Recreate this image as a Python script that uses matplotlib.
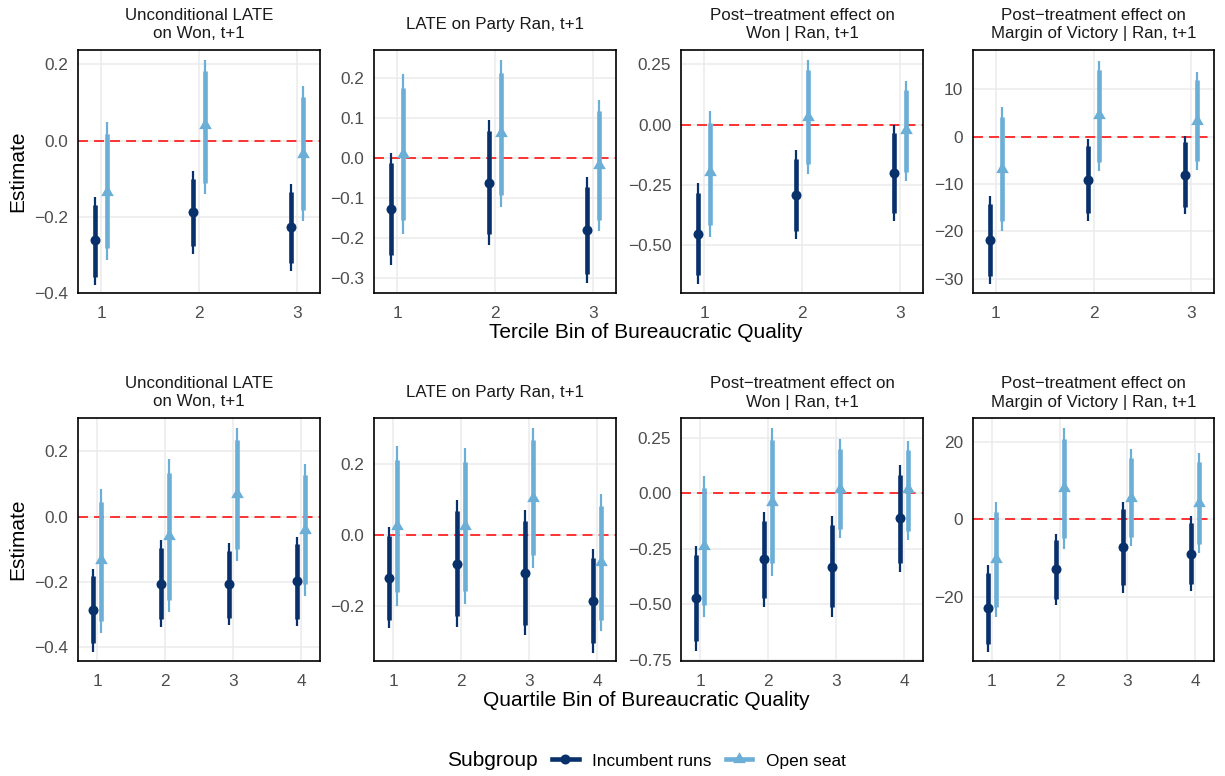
import matplotlib
matplotlib.use("Agg")
import matplotlib.pyplot as plt
from matplotlib.lines import Line2D
import numpy as np

plt.rcParams['font.family'] = ['Liberation Sans', 'DejaVu Sans']
plt.rcParams['axes.unicode_minus'] = True

# ---------------- data ----------------
titles = ["Unconditional LATE\non Won, t+1",
          "LATE on Party Ran, t+1",
          "Post\u2212treatment effect on\nWon | Ran, t+1",
          "Post\u2212treatment effect on\nMargin of Victory | Ran, t+1"]
series_names = ["Incumbent runs", "Open seat"]
tercile_bins = [1, 2, 3]
quartile_bins = [1, 2, 3, 4]
xlabel_top = "Tercile Bin of Bureaucratic Quality"
xlabel_bottom = "Quartile Bin of Bureaucratic Quality"

# Tercile: incumbent runs
t_inc_est = [[-0.262, -0.188, -0.227], [-0.127, -0.061, -0.179],
             [-0.454, -0.292, -0.200], [-21.75, -9.1, -8.0]]
t_inc_hi90 = [[-0.169, -0.100, -0.135], [-0.012, 0.068, -0.071],
              [-0.285, -0.142, -0.037], [-14.2, -2.0, -1.2]]
t_inc_lo90 = [[-0.357, -0.276, -0.322], [-0.242, -0.190, -0.290],
              [-0.628, -0.444, -0.367], [-29.5, -16.1, -14.9]]
t_inc_hi95 = [[-0.147, -0.079, -0.113], [0.012, 0.096, -0.048],
              [-0.243, -0.107, 0.0], [-12.6, -0.5, 0.2]]
t_inc_lo95 = [[-0.379, -0.297, -0.342], [-0.267, -0.218, -0.312],
              [-0.663, -0.478, -0.401], [-31.0, -17.8, -16.4]]
# Tercile: open seat
t_opn_est = [[-0.134, 0.040, -0.035], [0.011, 0.062, -0.017],
             [-0.197, 0.032, -0.024], [-6.8, 4.6, 3.4]]
t_opn_hi90 = [[0.018, 0.183, 0.115], [0.175, 0.214, 0.118],
              [0.007, 0.226, 0.143], [4.1, 14.0, 11.9]]
t_opn_lo90 = [[-0.282, -0.110, -0.181], [-0.154, -0.092, -0.154],
              [-0.419, -0.165, -0.197], [-17.7, -5.3, -5.05]]
t_opn_hi95 = [[0.048, 0.211, 0.144], [0.211, 0.246, 0.147],
              [0.056, 0.268, 0.181], [6.3, 16.0, 13.75]]
t_opn_lo95 = [[-0.313, -0.141, -0.210], [-0.189, -0.122, -0.183],
              [-0.468, -0.207, -0.235], [-20.0, -7.3, -7.0]]

# Quartile: incumbent runs
q_inc_est = [[-0.286, -0.205, -0.207, -0.198], [-0.122, -0.081, -0.106, -0.187],
             [-0.472, -0.297, -0.330, -0.1125], [-22.9, -12.9, -7.1, -8.9]]
q_inc_hi90 = [[-0.183, -0.096, -0.104, -0.083], [-0.004, 0.067, 0.041, -0.066],
              [-0.277, -0.123, -0.142, 0.085], [-13.8, -5.4, 2.6, -0.9]]
q_inc_lo90 = [[-0.388, -0.312, -0.309, -0.312], [-0.239, -0.229, -0.253, -0.305],
              [-0.667, -0.472, -0.513, -0.312], [-32.1, -20.5, -16.9, -16.6]]
q_inc_hi95 = [[-0.159, -0.073, -0.080, -0.061], [0.022, 0.098, 0.072, -0.040],
              [-0.235, -0.085, -0.102, 0.127], [-11.7, -3.7, 4.6, 0.9]]
q_inc_lo95 = [[-0.413, -0.337, -0.332, -0.335], [-0.264, -0.261, -0.283, -0.334],
              [-0.712, -0.510, -0.555, -0.352], [-34.2, -22.2, -19.0, -18.5]]
# Quartile: open seat
q_opn_est = [[-0.134, -0.058, 0.069, -0.041], [0.026, 0.026, 0.105, -0.075],
             [-0.237, -0.037, 0.022, 0.020], [-10.2, 8.2, 5.5, 4.3]]
q_opn_hi90 = [[0.046, 0.135, 0.234, 0.127], [0.213, 0.208, 0.270, 0.083],
              [0.025, 0.240, 0.202, 0.195], [1.9, 20.8, 15.9, 14.8]]
q_opn_lo90 = [[-0.319, -0.256, -0.098, -0.205], [-0.160, -0.158, -0.057, -0.239],
              [-0.502, -0.315, -0.162, -0.169], [-22.6, -4.8, -4.6, -6.3]]
q_opn_hi95 = [[0.086, 0.176, 0.270, 0.160], [0.251, 0.246, 0.304, 0.117],
              [0.078, 0.297, 0.244, 0.237], [4.6, 23.7, 18.2, 17.1]]
q_opn_lo95 = [[-0.357, -0.293, -0.136, -0.243], [-0.201, -0.196, -0.092, -0.272],
              [-0.555, -0.372, -0.202, -0.210], [-25.2, -7.7, -7.0, -8.7]]

# axis settings
t_ylims = [(-0.40, 0.238), (-0.3375, 0.271), (-0.701, 0.31), (-33.0, 18.3)]
t_yticks = [[-0.4, -0.2, 0.0, 0.2], [-0.3, -0.2, -0.1, 0.0, 0.1, 0.2],
            [-0.5, -0.25, 0.0, 0.25], [-30, -20, -10, 0, 10]]
q_ylims = [(-0.442, 0.302), (-0.356, 0.331), (-0.755, 0.34), (-36.6, 26.2)]
q_yticks = [[-0.4, -0.2, 0.0, 0.2], [-0.2, 0.0, 0.2],
            [-0.75, -0.5, -0.25, 0.0, 0.25], [-20, 0, 20]]
yfmts = ["{:.1f}", "{:.1f}", "{:.2f}", "{:.0f}"]

# ---------------- style ----------------
W, H = 1225, 776
C_INC = "#08306B"
C_OPN = "#6BAED6"
DODGE = 0.06
tri = [(0, 1), (-0.866, -0.5), (0.866, -0.5)]

fig = plt.figure(figsize=(W / 100, H / 100), dpi=100)

col_x = [(78, 320), (374, 616), (681, 923), (973, 1214)]
row_y = [(50, 293), (418, 661)]
title_y = [24.5, 393]


def fmt_num(s):
    return s.replace("-", "\u2212")


def draw_panel(ax, bins, inc, opn, ylim, yticks, yfmt):
    x = np.array(bins, dtype=float)
    ax.set_facecolor("white")
    for xv in bins:
        ax.axvline(xv, color="#EBEBEB", lw=1.1, zorder=0)
    for yv in yticks:
        ax.axhline(yv, color="#EBEBEB", lw=1.1, zorder=0)
    ax.axhline(0, color="red", lw=1.1, linestyle=(0, (6.5, 4)), zorder=1)
    for (est, lo90, hi90, lo95, hi95), color, off, mk, ms in [
            (inc, C_INC, -DODGE, "o", 7.2), (opn, C_OPN, DODGE, tri, 10.5)]:
        xx = x + off
        ax.vlines(xx, lo95, hi95, color=color, lw=1.6, zorder=2)
        ax.vlines(xx, lo90, hi90, color=color, lw=3.3, zorder=3)
        ax.plot(xx, est, linestyle="none", marker=mk, ms=ms, color=color,
                markeredgewidth=0, zorder=4)
    pad = 0.235 if len(bins) == 3 else 0.28
    ax.set_xlim(bins[0] - pad, bins[-1] + pad)
    ax.set_ylim(*ylim)
    ax.set_xticks(bins)
    ax.set_xticklabels([str(b) for b in bins])
    ax.set_yticks(yticks)
    ax.set_yticklabels([fmt_num(yfmt.format(v)) for v in yticks])
    ax.tick_params(axis="both", length=0, labelsize=12.4, labelcolor="#4D4D4D")
    ax.tick_params(axis="x", pad=9)
    ax.tick_params(axis="y", pad=7)
    ax.grid(False)
    for sp in ax.spines.values():
        sp.set_color("black")
        sp.set_linewidth(1.2)
        sp.set_zorder(5)


rows = [
    (tercile_bins, t_inc_est, t_inc_lo90, t_inc_hi90, t_inc_lo95, t_inc_hi95,
     t_opn_est, t_opn_lo90, t_opn_hi90, t_opn_lo95, t_opn_hi95, t_ylims, t_yticks),
    (quartile_bins, q_inc_est, q_inc_lo90, q_inc_hi90, q_inc_lo95, q_inc_hi95,
     q_opn_est, q_opn_lo90, q_opn_hi90, q_opn_lo95, q_opn_hi95, q_ylims, q_yticks),
]

for r, row in enumerate(rows):
    (bins, ie, il9, ih9, il5, ih5, oe, ol9, oh9, ol5, oh5, ylims, yticks) = row
    y0, y1 = row_y[r]
    for c in range(4):
        x0, x1 = col_x[c]
        ax = fig.add_axes([x0 / W, 1 - y1 / H, (x1 - x0) / W, (y1 - y0) / H])
        draw_panel(ax, bins,
                   (ie[c], il9[c], ih9[c], il5[c], ih5[c]),
                   (oe[c], ol9[c], oh9[c], ol5[c], oh5[c]),
                   ylims[c], yticks[c], yfmts[c])
        fig.text((x0 + x1) / 2 / W, 1 - title_y[r] / H, titles[c],
                 ha="center", va="center", fontsize=12.2, color="#1A1A1A",
                 linespacing=1.25)
    fig.text(17.5 / W, 1 - (y0 + y1) / 2 / H, "Estimate", rotation=90,
             ha="center", va="center", fontsize=15, color="black")

fig.text(646 / W, 1 - 333 / H, xlabel_top, ha="center", va="center",
         fontsize=15, color="black")
fig.text(646 / W, 1 - 700 / H, xlabel_bottom, ha="center", va="center",
         fontsize=15, color="black")

# legend
fig.text(447 / W, 1 - 761 / H, "Subgroup", ha="left", va="center",
         fontsize=15, color="black")
handles = [Line2D([], [], color=C_INC, lw=3.3, marker="o", ms=7.2, markeredgewidth=0),
           Line2D([], [], color=C_OPN, lw=3.3, marker=tri, ms=10.5, markeredgewidth=0)]
fig.legend(handles, series_names, loc="center left",
           bbox_to_anchor=(552 / W, 1 - 761 / H), ncol=2, frameon=False,
           fontsize=12.4, handlelength=1.55, handletextpad=0.8,
           columnspacing=0.8, borderpad=0, borderaxespad=0)

fig.savefig("out.png", dpi=100, facecolor="white")
